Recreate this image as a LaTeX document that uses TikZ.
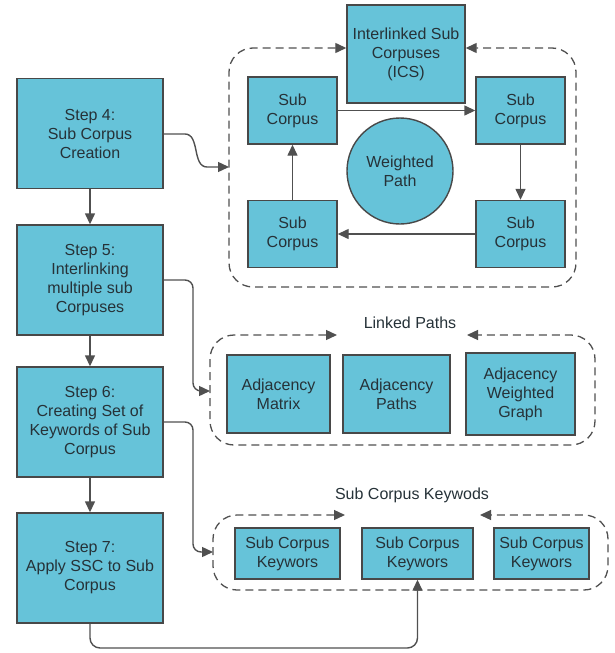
\documentclass[tikz,border=0pt]{standalone}
\usepackage{fontspec}
\setmainfont{Liberation Sans}
\usetikzlibrary{arrows.meta}
\definecolor{boxfill}{HTML}{66C3D9}
\definecolor{boxline}{HTML}{484848}
\definecolor{linkline}{HTML}{505050}
\definecolor{txt}{HTML}{263238}
\begin{document}
\begin{tikzpicture}[x=1pt,y=-1pt,
  font=\fontsize{16}{19}\selectfont,
  box/.style={draw=boxline, line width=1.4pt, fill=boxfill, text=txt, align=center, inner sep=2pt},
  stepbox/.style={box, minimum width=146pt, minimum height=110pt},
  subbox/.style={box, minimum width=89pt, minimum height=67pt},
  link/.style={draw=linkline, line width=1.4pt, -{Triangle[length=11pt,width=10pt]}},
  group/.style={draw=linkline, line width=1.3pt, dash pattern=on 8pt off 5pt, rounded corners=24pt,
    {Triangle[length=11pt,width=10pt]}-{Triangle[length=11pt,width=10pt]}},
  grouplabel/.style={text=txt}]
\useasboundingbox (0,0) rectangle (614,653);

% Process steps
\node[stepbox] (s4) at (90,133.5) {Step 4:\\Sub Corpus\\Creation};
\node[stepbox] (s5) at (90,280) {Step 5:\\Interlinking\\multiple sub\\Corpuses};
\node[stepbox] (s6) at (90,422) {Step 6:\\Creating Set of\\Keywords of Sub\\Corpus};
\node[stepbox] (s7) at (90,568) {Step 7:\\Apply SSC to Sub\\Corpus};

\draw[link] (s4) -- (s5);
\draw[link] (s5) -- (s6);
\draw[link] (s6) -- (s7);

% Interlinked sub corpuses
\node[box, minimum width=118pt, minimum height=98pt] (ics) at (406,54) {Interlinked Sub\\Corpuses\\(ICS)};
\node[subbox] (tl) at (292.5,110.5) {Sub\\Corpus};
\node[subbox] (tr) at (520.5,110.5) {Sub\\Corpus};
\node[subbox] (bl) at (292.5,234) {Sub\\Corpus};
\node[subbox] (br) at (520.5,234) {Sub\\Corpus};
\node[box, circle, minimum size=106pt] (wp) at (400,171) {Weighted\\Path};

\draw[link] (tl) -- (tr);
\draw[link] (tr) -- (br);
\draw[link] (br) -- (bl);
\draw[link] (bl) -- (tl);

\coordinate (g1a) at (229,48);
\coordinate (g1b) at (576,287);
\draw[group] (ics.west |- g1a) -- (g1a) -- (g1a |- g1b) -- (g1b) -- (g1b |- g1a) -- (ics.east |- g1a);

% Linked paths
\node[grouplabel] (lp) at (410,323) {Linked Paths};
\node[box, minimum width=103pt, minimum height=78pt] (am) at (278.5,394) {Adjacency\\Matrix};
\node[box, minimum width=107pt, minimum height=78pt] (ap) at (396.5,394) {Adjacency\\Paths};
\node[box, minimum width=109pt, minimum height=82pt] (awg) at (520.5,394) {Adjacency\\Weighted\\Graph};

\coordinate (g2a) at (210,335);
\coordinate (g2b) at (595,445);
\coordinate (g2l) at (337,335);
\coordinate (g2r) at (467,335);
\draw[group] (g2l) -- (g2a) -- (g2a |- g2b) -- (g2b) -- (g2b |- g2a) -- (g2r);

% Sub corpus keywords
\node[grouplabel] (kw) at (412,495) {Sub Corpus Keywods};
\node[box, minimum width=105pt, minimum height=51pt] (k1) at (287.5,553.5) {Sub Corpus\\Keywors};
\node[box, minimum width=111pt, minimum height=51pt] (k2) at (417.5,553.5) {Sub Corpus\\Keywors};
\node[box, minimum width=95pt, minimum height=51pt] (k3) at (541.5,553.5) {Sub Corpus\\Keywors};

\coordinate (g3a) at (213,515);
\coordinate (g3b) at (608,590);
\coordinate (g3l) at (345,515);
\coordinate (g3r) at (480,515);
\draw[group] (g3l) -- (g3a) -- (g3a |- g3b) -- (g3b) -- (g3b |- g3a) -- (g3r);

% Connectors from the steps to their groups
\coordinate (in1) at (229,167);
\draw[link] (s4.east |- 0,134) -- (185,134) .. controls (200,134) and (192,167) .. (207,167) -- (in1);

\coordinate (in2) at (210,391);
\draw[link, rounded corners=8pt] (s5.east) -- (193,280) -- (193,391) -- (in2);

\coordinate (in3) at (213,552);
\draw[link, rounded corners=8pt] (s6.east) -- (193,422) -- (193,552) -- (in3);

\draw[link, rounded corners=10pt] (s7.south) -- (90,648) -- (k2.south |- 0,648) -- (k2.south);
\end{tikzpicture}
\end{document}
